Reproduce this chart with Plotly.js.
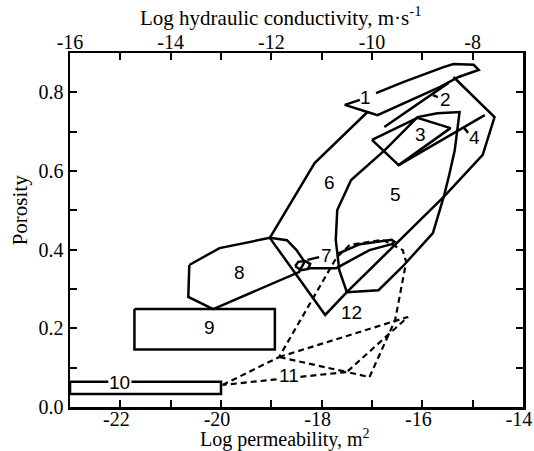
<!DOCTYPE html>
<html>
<head>
<meta charset="utf-8">
<script src="https://cdn.plot.ly/plotly-3.0.1.min.js"></script>
<style>html,body{margin:0;padding:0;background:#fff;}#chart{width:534px;height:451px;}</style>
</head>
<body>
<div id="chart"></div>
<script>
// Axis ticks (labelled and unlabelled)
const permTicks = [-22,-20,-18,-16,-14];
const permTickText = ['-22','-20','-18','-16','-14'];
const permMinor = [-23,-21,-19,-17,-15];
const condTicks = [-16,-14,-12,-10,-8];
const condTickText = ['-16','-14','-12','-10','-8'];
const condMinor = [-15,-13,-11,-9,-7];
const poroTicks = [0,0.2,0.4,0.6,0.8];
const poroTickText = ['0.0','0.2','0.4','0.6','0.8'];
const poroMinor = [0.1,0.3,0.5,0.7,0.9];

// Field outlines (log permeability, porosity)
const field1X = [-17.24,-17.54,-17.09,-16.89,-15.645,-15.28,-14.88,-14.98,-15.38,-15.58,-16.38,-16.92];
const field1Y = [0.781,0.768,0.750,0.742,0.814,0.839,0.857,0.870,0.872,0.864,0.826,0.798];
const field2X = [-16.755,-15.48];
const field2Y = [0.712,0.824];
const lead2X = [-15.79,-15.69];
const lead2Y = [0.793,0.788];
const field3X = [-17.0,-16.096,-15.44,-16.47,-17.0];
const field3Y = [0.679,0.735,0.709,0.615,0.679];
const field4X = [-16.47,-14.76];
const field4Y = [0.615,0.742];
const lead4X = [-15.166,-15.09];
const lead4Y = [0.709,0.697];
const field5X = [-17.50,-17.65,-17.72,-17.69,-17.415,-16.745,-16.095,-15.70,-15.26,-15.305,-15.355,-15.466,-15.575,-17.50];
const field5Y = [0.292,0.348,0.425,0.501,0.577,0.653,0.737,0.747,0.750,0.704,0.653,0.590,0.534,0.292];
const outerX = [-15.38,-14.565,-14.80,-15.575,-15.79,-16.40,-16.87,-17.50];
const outerY = [0.839,0.737,0.641,0.534,0.442,0.356,0.297,0.292];
const field6X = [-19.03,-18.14,-17.09];
const field6Y = [0.430,0.620,0.750];
const field7LoopX = [-18.526,-18.466,-18.327,-18.228,-18.267,-18.406,-18.526];
const field7LoopY = [0.358,0.369,0.371,0.364,0.351,0.348,0.358];
const field7BandX = [-18.29,-17.71,-17.05,-16.61,-16.55,-16.61,-17.24,-17.69];
const field7BandY = [0.353,0.353,0.399,0.414,0.420,0.425,0.414,0.389];
const lead7X = [-18.285,-18.05];
const lead7Y = [0.374,0.381];
const field8X = [-20.63,-20.03,-19.03,-18.69,-18.50,-18.34,-18.45,-20.155,-20.65,-20.63];
const field8Y = [0.361,0.404,0.430,0.424,0.399,0.369,0.343,0.249,0.280,0.361];
const field9X = [-21.72,-18.93,-18.93,-21.72,-21.72];
const field9Y = [0.249,0.249,0.146,0.146,0.249];
const field10X = [-22.24,-23,-23,-20,-20,-21.78];
const field10Y = [0.064,0.064,0.033,0.033,0.064,0.064];
const field11AX = [-19.97,-18.846,-17.71,-17.44,-16.785,-16.39,-16.32,-16.54,-17.05,-17.50,-19.97];
const field11AY = [0.056,0.127,0.379,0.412,0.425,0.399,0.369,0.221,0.076,0.089,0.056];
const field11BX = [-18.846,-16.285,-17.50,-18.846];
const field11BY = [0.127,0.229,0.089,0.127];
const field12X = [-19.03,-17.93,-17.50];
const field12Y = [0.430,0.234,0.292];

// Field numbers
const labelText = ['1','2','3','4','5','6','7','8','9','10','11','12'];
const labelX = [-17.12,-15.53,-16.04,-14.97,-16.53,-17.85,-17.91,-19.64,-20.22,-22.02,-18.64,-17.415];
const labelY = [0.788,0.781,0.692,0.684,0.539,0.572,0.386,0.341,0.201,0.062,0.079,0.239];

// Axis titles
const titleBottom = 'Log permeability, m<sup>2</sup>';
const titleTop = 'Log hydraulic conductivity, m\u00b7s<sup>-1</sup>';
const titleLeft = 'Porosity';

const solid = [
  [field1X,field1Y],[field2X,field2Y],[lead2X,lead2Y],[field3X,field3Y],[field4X,field4Y],
  [lead4X,lead4Y],[field5X,field5Y],[outerX,outerY],[field6X,field6Y],[field7LoopX,field7LoopY],
  [field7BandX,field7BandY],[lead7X,lead7Y],[field8X,field8Y],[field9X,field9Y],[field10X,field10Y],
  [field12X,field12Y]
];
const dashed = [[field11AX,field11AY],[field11BX,field11BY]];

const traces = [];
solid.forEach(function(p){
  traces.push({x:p[0], y:p[1], mode:'lines', line:{color:'#000', width:2.5}, hoverinfo:'skip', showlegend:false});
});
dashed.forEach(function(p){
  traces.push({x:p[0], y:p[1], mode:'lines', line:{color:'#000', width:2.2, dash:'6px,4px'}, hoverinfo:'skip', showlegend:false});
});
// carrier for the top (hydraulic conductivity) axis
traces.push({x:[-16,-7], y:[0,0], xaxis:'x2', yaxis:'y', mode:'markers', marker:{opacity:0}, hoverinfo:'skip', showlegend:false});

const serif = '"Liberation Serif", "Times New Roman", serif';
const annotations = labelText.map(function(t,i){
  return {x:labelX[i], y:labelY[i], xref:'x', yref:'y', text:t, showarrow:false,
    font:{family:'"Liberation Sans", Arial, sans-serif', size:19, color:'#000'},
    bgcolor: t==='11' ? '#fff' : 'rgba(0,0,0,0)', borderpad:0};
});
annotations.push({xref:'paper', yref:'paper', x:0.475, y:-0.0876, xanchor:'center', yanchor:'middle', text:titleBottom, showarrow:false, font:{family:serif, size:20, color:'#000'}});
annotations.push({xref:'paper', yref:'paper', x:0.465, y:1.104, xanchor:'center', yanchor:'middle', text:titleTop, showarrow:false, font:{family:serif, size:21, color:'#000'}});
annotations.push({xref:'paper', yref:'paper', x:-0.11, y:0.556, xanchor:'center', yanchor:'middle', text:titleLeft, textangle:-90, showarrow:false, font:{family:serif, size:21, color:'#000'}});

function axis(extra){
  return Object.assign({
    tickmode:'array', ticks:'inside', ticklen:7, tickwidth:2, tickcolor:'#000',
    showline:true, linewidth:2.5, linecolor:'#000', showgrid:false, zeroline:false,
    ticklabeloverflow:'allow',
    tickfont:{family:serif, size:20, color:'#000'}
  }, extra);
}

const layout = {
  width:534, height:451,
  margin:{l:70, r:11, t:53, b:44, pad:0},
  paper_bgcolor:'#fff', plot_bgcolor:'#fff', showlegend:false,
  font:{family:serif, size:21, color:'#000'},
  xaxis:axis({range:[-23.0005,-13.9995], tickvals:permTicks, ticktext:permTickText, mirror:false, ticklabelstandoff:-8, ticklabelshift:-4,
    minor:{tickmode:'array', tickvals:permMinor, ticks:'inside', ticklen:7, tickwidth:2, tickcolor:'#000'}}),
  xaxis2:axis({range:[-16.0005,-6.9995], tickvals:condTicks, ticktext:condTickText, overlaying:'x', side:'top', anchor:'y', ticklabelstandoff:-6,
    minor:{tickmode:'array', tickvals:condMinor, ticks:'inside', ticklen:7, tickwidth:2, tickcolor:'#000'}}),
  yaxis:axis({range:[0,0.9], tickvals:poroTicks, ticktext:poroTickText, mirror:'ticks',
    minor:{tickmode:'array', tickvals:poroMinor, ticks:'inside', ticklen:7, tickwidth:2, tickcolor:'#000'}}),
  annotations:annotations
};

Plotly.newPlot('chart', traces, layout, {displayModeBar:false, staticPlot:true});
</script>
</body>
</html>
